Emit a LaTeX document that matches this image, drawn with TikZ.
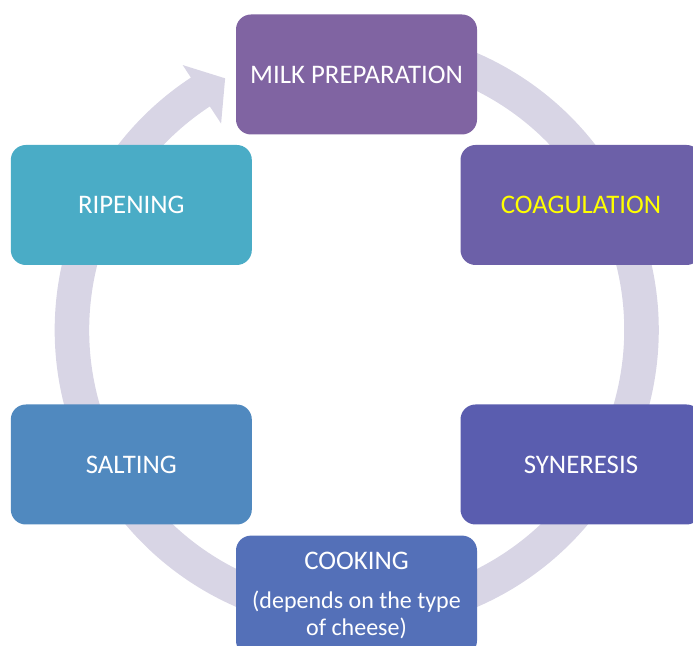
\documentclass[tikz,border=0pt]{standalone}
\usepackage{fontspec}
\setmainfont{Carlito}
\definecolor{ringc}{HTML}{D8D5E5}
\definecolor{milkc}{HTML}{8064A2}
\definecolor{coagc}{HTML}{6C60A8}
\definecolor{sync}{HTML}{5A5DAF}
\definecolor{cookc}{HTML}{5470B8}
\definecolor{saltc}{HTML}{5089BF}
\definecolor{ripec}{HTML}{4AACC6}
\definecolor{yel}{HTML}{FFFF00}
\tikzset{
  stagebox/.style={rounded corners=15pt, minimum width=241pt, minimum height=120pt,
    inner sep=0pt, text=white, font=\fontsize{26.8}{31}\selectfont, align=center},
}
\begin{document}
\begin{tikzpicture}[x=1pt,y=1pt]
\useasboundingbox (0,0) rectangle (693,645);
\clip (0,0) rectangle (693,645);
% circular arrow
\begin{scope}[shift={(356.7,315)}]
\fill[ringc] (112:302) arc[start angle=112, end angle=-236.7, radius=302]
  -- (123.3:317) -- (117.6:284) -- (123.3:247)
  -- (123.3:267.5) arc[start angle=-236.7, end angle=112, radius=267.5] -- cycle;
\end{scope}
% boxes
\node[stagebox, fill=milkc] (milk) at (356.5,570.5) {MILK PREPARATION};
\node[stagebox, fill=coagc, text=yel] (coag) at (581,440) {COAGULATION};
\node[stagebox, fill=sync] (syn) at (581,180.5) {SYNERESIS};
\node[stagebox, fill=cookc] (cook) at (356.5,49.4) {COOKING\\[8pt]\fontsize{24}{25}\selectfont (depends on the type\\[-4pt]\fontsize{24}{25}\selectfont of cheese)};
\node[stagebox, fill=saltc] (salt) at (131.3,180.5) {SALTING};
\node[stagebox, fill=ripec] (ripe) at (131.3,440) {RIPENING};
\end{tikzpicture}
\end{document}
